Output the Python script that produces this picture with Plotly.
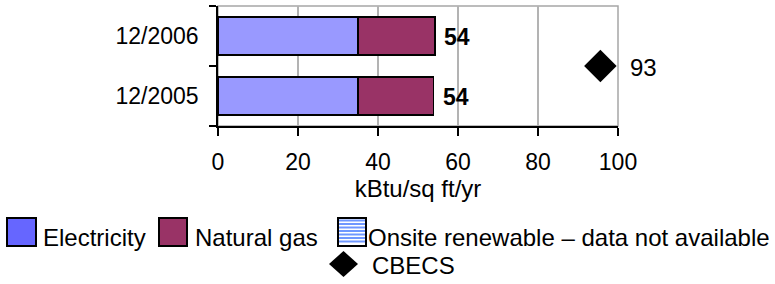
import plotly.graph_objects as go

# ---- data ----
categories = ["12/2005", "12/2006"]
electricity = [35.0, 35.0]
natural_gas = [18.9, 19.3]
onsite_renewable = [None, None]  # data not available
cbecs_label = ["93"]
cbecs_position = [95.6]
x_ticks = [0, 20, 40, 60, 80, 100]
legend_labels = ["Electricity", "Natural gas",
                 "Onsite renewable \u2013 data not available", "CBECS"]

totals = [e + g for e, g in zip(electricity, natural_gas)]

FONT = "Liberation Sans, Arial, sans-serif"
FS = 23
W, H = 775, 284
L, R, T, B = 218, 157, 6, 158
PW, PH = W - L - R, H - T - B


def px(x):
    return (x - L) / PW


def py(y):
    return (H - B - y) / PH


ELEC_C = "#9999FF"
GAS_C = "#993366"

fig = go.Figure()
fig.add_trace(go.Bar(
    y=categories, x=electricity, orientation="h", name=legend_labels[0],
    marker=dict(color=ELEC_C, line=dict(color="black", width=1.5)),
    showlegend=False,
))
fig.add_trace(go.Bar(
    y=categories, x=natural_gas, orientation="h", name=legend_labels[1],
    marker=dict(color=GAS_C, line=dict(color="black", width=1.5)),
    showlegend=False,
))
fig.add_trace(go.Bar(
    y=categories, x=onsite_renewable, orientation="h", name=legend_labels[2],
    marker=dict(color="white", line=dict(color="black", width=1.5),
                pattern=dict(shape="-", fgcolor="#6F97FF", bgcolor="white")),
    showlegend=False,
))
fig.add_trace(go.Scatter(
    x=cbecs_position, y=[0.5], yaxis="y2", mode="markers", name=legend_labels[3],
    marker=dict(symbol="diamond", size=25, color="black"),
    showlegend=False, cliponaxis=False,
))

for cat, tot in zip(categories, totals):
    fig.add_annotation(
        x=tot, y=cat, xref="x", yref="y", text=f"<b>{round(tot)}</b>",
        showarrow=False, xanchor="left", xshift=7, yshift=-1,
        font=dict(size=FS, color="black", family=FONT),
    )
fig.add_annotation(
    x=cbecs_position[0], y=0.5, xref="x", yref="y2", text=cbecs_label[0],
    showarrow=False, xanchor="left", xshift=28, yshift=-1,
    font=dict(size=24, color="black", family=FONT),
)

shapes = []
# gray frame of plot area (top/right); left/bottom axes drawn black on top
shapes.append(dict(type="rect", xref="paper", yref="paper", x0=0, y0=0, x1=1, y1=1,
                   line=dict(color="#A6A6A6", width=1.5), layer="below"))

# ---- manual legend ----
sq_top, sq_bot = 218, 246
text_y = 237
swatches = [(7, 36, "#6666FF"), (159, 187, GAS_C)]
for x0, x1, col in swatches:
    shapes.append(dict(type="rect", xref="paper", yref="paper",
                       x0=px(x0), x1=px(x1), y0=py(sq_bot), y1=py(sq_top),
                       fillcolor=col, line=dict(color="black", width=2)))
# striped swatch
sx0, sx1 = 338, 366
shapes.append(dict(type="rect", xref="paper", yref="paper",
                   x0=px(sx0), x1=px(sx1), y0=py(sq_bot), y1=py(sq_top),
                   fillcolor="white", line=dict(width=0)))
yy = sq_top + 2.5
while yy < sq_bot - 1:
    shapes.append(dict(type="line", xref="paper", yref="paper",
                       x0=px(sx0), x1=px(sx1), y0=py(yy), y1=py(yy),
                       line=dict(color="#6F97FF", width=2)))
    yy += 3.5
shapes.append(dict(type="rect", xref="paper", yref="paper",
                   x0=px(sx0), x1=px(sx1), y0=py(sq_bot), y1=py(sq_top),
                   line=dict(color="black", width=2)))
# diamond swatch
dcx, dcy, dhw, dhh = 343.5, 264, 14.5, 13
shapes.append(dict(type="path", xref="paper", yref="paper",
                   path=(f"M {px(dcx - dhw)} {py(dcy)} L {px(dcx)} {py(dcy - dhh)} "
                         f"L {px(dcx + dhw)} {py(dcy)} L {px(dcx)} {py(dcy + dhh)} Z"),
                   fillcolor="black", line=dict(width=0)))

legend_text_pos = [(41, text_y), (193, text_y), (366, text_y), (370, dcy + 1)]
for label, (tx, ty) in zip(legend_labels, legend_text_pos):
    fig.add_annotation(x=px(tx), y=py(ty), xref="paper", yref="paper", text=label,
                       showarrow=False, xanchor="left", yanchor="middle",
                       font=dict(size=24, color="black", family=FONT))

fig.update_layout(
    width=W, height=H,
    margin=dict(l=L, r=R, t=T, b=B),
    paper_bgcolor="white", plot_bgcolor="white",
    barmode="stack", bargap=0.367,
    font=dict(family=FONT, size=FS, color="black"),
    showlegend=False,
    shapes=shapes,
    xaxis=dict(
        range=[0, 100], tickvals=x_ticks, ticks="outside", ticklen=8,
        tickcolor="black", tickwidth=1.5,
        showline=True, linecolor="black", linewidth=1.5,
        showgrid=True, gridcolor="#B3B3B3", gridwidth=1.5,
        zeroline=False, ticklabelstandoff=7, automargin=False,
        title=dict(text="kBtu/sq ft/yr", standoff=0, font=dict(size=24)),
        tickfont=dict(size=FS),
    ),
    yaxis=dict(
        type="category", categoryorder="array", categoryarray=categories,
        tickson="boundaries", ticks="outside", ticklen=7, tickcolor="black",
        tickwidth=1.5, showline=True, linecolor="black", linewidth=1.5,
        showgrid=False, ticklabelstandoff=13, tickfont=dict(size=FS),
        automargin=False,
    ),
    yaxis2=dict(overlaying="y", range=[0, 1], visible=False),
)

fig.write_html(
    "out.html",
    config={"displayModeBar": False},
    post_script="document.body.style.margin='0';document.body.style.overflow='hidden';",
)
